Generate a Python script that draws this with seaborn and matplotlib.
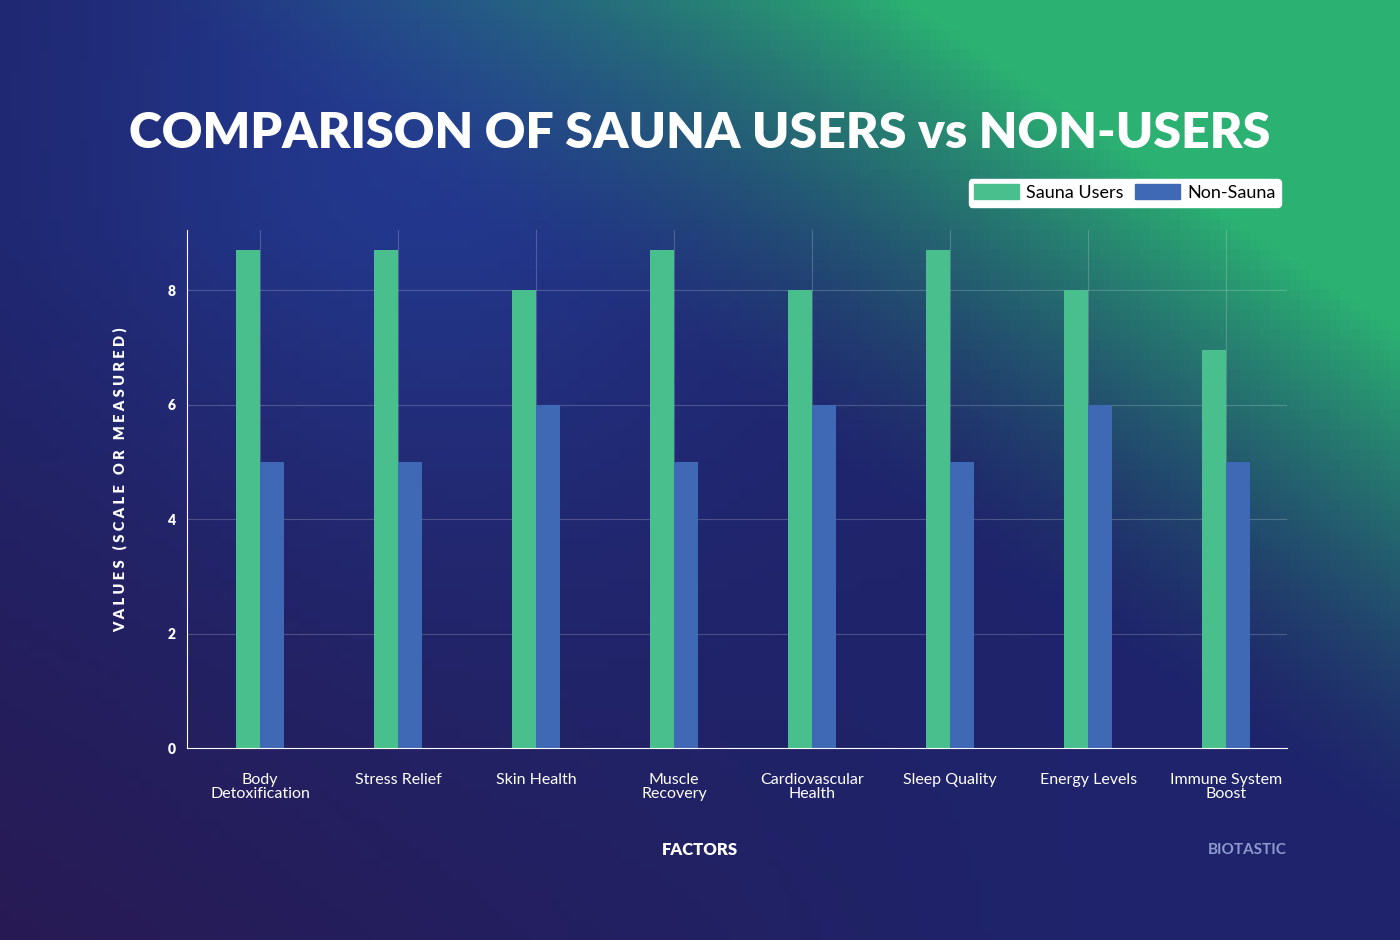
import numpy as np
import pandas as pd
import matplotlib
matplotlib.use("Agg")
import matplotlib.pyplot as plt
import seaborn as sns
from matplotlib.patches import Patch

categories = ["Body\nDetoxification", "Stress Relief", "Skin Health", "Muscle\nRecovery",
              "Cardiovascular\nHealth", "Sleep Quality", "Energy Levels", "Immune System\nBoost"]
sauna = [8.7, 8.7, 8.0, 8.7, 8.0, 8.7, 8.0, 6.95]
non_sauna = [5, 5, 6, 5, 6, 5, 6, 5]
yticks = [0, 2, 4, 6, 8]

df = pd.DataFrame({
    "Factor": categories * 2,
    "Value": sauna + non_sauna,
    "Group": ["Sauna Users"] * len(categories) + ["Non-Sauna"] * len(categories),
})

plt.rcParams["font.family"] = "Lato"
fig = plt.figure(figsize=(14, 9.4), dpi=100)

bg = fig.add_axes([0, 0, 1, 1])
h, w = 94, 140
yy, xx = np.mgrid[0:1:h*1j, 0:1:w*1j]
base = np.array([0.12, 0.14, 0.42])
purple = np.array([0.16, 0.10, 0.32])
blue = np.array([0.15, 0.28, 0.65])
green = np.array([0.17, 0.70, 0.45])
t_green = np.clip((xx - 0.55) * 1.8 + (0.45 - yy) * 1.8, 0, 1) ** 1.5
t_blue = np.exp(-(((xx - 0.3) / 0.25) ** 2 + ((yy - 0.1) / 0.5) ** 2))
t_purple = np.clip(yy * 1.2 - 0.3, 0, 1) * np.clip(1 - xx * 1.3, 0, 1)
img = base[None, None, :] * np.ones((h, w, 1))
img = img * (1 - t_blue[..., None] * 0.6) + blue * t_blue[..., None] * 0.6
img = img * (1 - t_purple[..., None]) + purple * t_purple[..., None]
img = img * (1 - t_green[..., None]) + green * t_green[..., None]
bg.imshow(np.clip(img, 0, 1), aspect="auto", extent=[0, 1, 1, 0])
bg.axis("off")

ax = fig.add_axes([187/1400, 1 - 748/940, 1100/1400, (748-230)/940])
ax.patch.set_alpha(0)
sns.barplot(data=df, x="Factor", y="Value", hue="Group",
            palette={"Sauna Users": "#48bf8c", "Non-Sauna": "#3f68b5"},
            width=0.35, ax=ax, legend=False, saturation=1)
ax.set_xlim(-0.53, 7.44)
ax.set_ylim(0, 9.05)
ax.set_yticks(yticks)
ax.grid(True, color="white", alpha=0.2, linewidth=0.8)
ax.set_axisbelow(True)
for s in ["top", "right"]:
    ax.spines[s].set_visible(False)
for s in ["left", "bottom"]:
    ax.spines[s].set_color("white")
ax.tick_params(colors="white", length=0)
ax.tick_params(axis="y", pad=8)
ax.tick_params(axis="x", pad=18)
for lbl in ax.get_yticklabels():
    lbl.set_fontweight("heavy"); lbl.set_fontsize(10)
for lbl in ax.get_xticklabels():
    lbl.set_fontsize(11.5); lbl.set_linespacing(1.0)
ax.set_xlabel("")
ax.set_ylabel("")

fig.text(120/1400, 1 - 480/940, "V A L U E S   ( S C A L E   O R   M E A S U R E D )",
         color="white", fontsize=10.5, fontweight="heavy", rotation=90,
         ha="center", va="center")
fig.text(700/1400, 1 - 850/940, "FACTORS", color="white", fontsize=12,
         fontweight="heavy", ha="center", va="center")
fig.text(0.5, 1 - 133/940, "COMPARISON OF SAUNA USERS vs NON-USERS", color="white",
         fontsize=36, fontweight="black", ha="center", va="center")
fig.text(1287/1400, 1 - 850/940, "BIOTASTIC", color="#8f9ad0", fontsize=11,
         fontweight="bold", ha="right", va="center")

handles = [Patch(color="#48bf8c", label="Sauna Users"), Patch(color="#3f68b5", label="Non-Sauna")]
leg = fig.legend(handles=handles, loc="upper right", bbox_to_anchor=(1290/1400, 1 - 170/940),
                 ncol=2, frameon=True, fontsize=13, handlelength=2.5, handleheight=0.9,
                 columnspacing=0.6, handletextpad=0.4, borderpad=0.3, fancybox=True)
leg.get_frame().set_facecolor("white")
leg.get_frame().set_edgecolor("white")
leg.get_frame().set_alpha(1)

fig.savefig("out.png", dpi=100)
